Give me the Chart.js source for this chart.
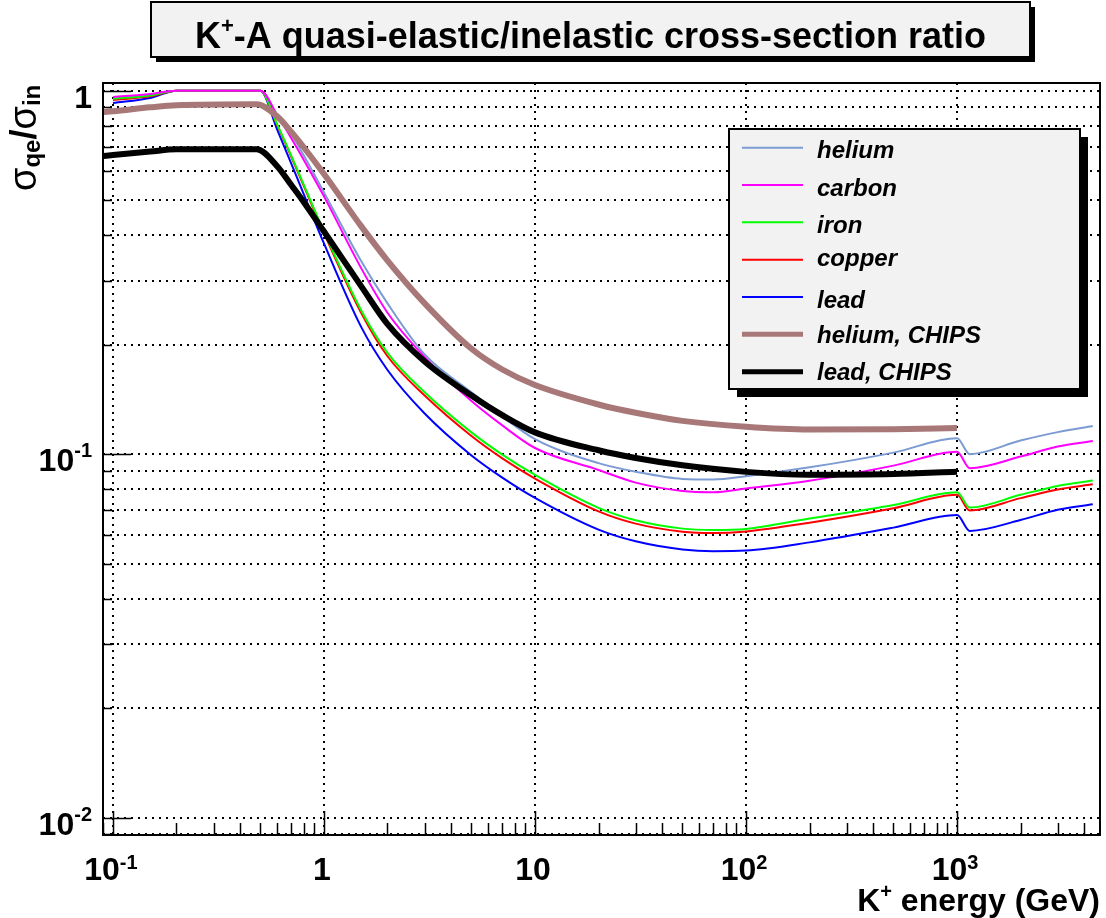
<!DOCTYPE html>
<html>
<head>
<meta charset="utf-8">
<title>K+-A quasi-elastic/inelastic cross-section ratio</title>
<script src="https://cdn.jsdelivr.net/npm/chart.js@4.4.1/dist/chart.umd.min.js"></script>
<style>
  html, body { margin: 0; padding: 0; background: #ffffff; }
  #wrap { width: 1106px; height: 918px; }
</style>
</head>
<body>
<div id="wrap"><canvas id="ratio-chart" width="1106" height="918"></canvas></div>
<script>
// kaon energy grid (GeV) of the parametrised curves
const energyParam = [0.1, 0.15, 0.2, 0.5, 0.6, 0.7, 0.8, 1, 1.5, 2, 3, 5, 7, 10, 20, 30, 50, 70, 100, 200, 500, 1000, 1150, 2000, 3000, 4400];
const heliumRatio = [0.95, 0.975, 1.0, 1.0, 0.86, 0.76, 0.665, 0.525, 0.34, 0.26, 0.188, 0.148, 0.127, 0.11, 0.0945, 0.0895, 0.0855, 0.0852, 0.087, 0.092, 0.101, 0.1106, 0.1, 0.109, 0.115, 0.1196];
const carbonRatio = [0.96, 0.98, 1.0, 1.0, 0.857, 0.74, 0.647, 0.512, 0.325, 0.245, 0.185, 0.14, 0.12, 0.104, 0.0905, 0.0835, 0.0792, 0.0786, 0.0805, 0.0845, 0.093, 0.1016, 0.0915, 0.0985, 0.105, 0.1087];
const ironRatio = [0.95, 0.97, 1.0, 1.0, 0.808, 0.662, 0.553, 0.41, 0.249, 0.19, 0.148, 0.1148, 0.0997, 0.0877, 0.0712, 0.0658, 0.0624, 0.0619, 0.0623, 0.0665, 0.0725, 0.0786, 0.0713, 0.0773, 0.0818, 0.0846];
const copperRatio = [0.943, 0.965, 1.0, 1.0, 0.804, 0.658, 0.549, 0.406, 0.245, 0.186, 0.145, 0.1122, 0.0974, 0.0857, 0.0696, 0.0644, 0.0612, 0.0607, 0.0613, 0.0648, 0.071, 0.0773, 0.070, 0.0757, 0.080, 0.0826];
const leadRatio = [0.925, 0.955, 1.0, 1.0, 0.782, 0.63, 0.521, 0.38, 0.224, 0.1705, 0.1294, 0.0992, 0.0862, 0.0758, 0.062, 0.0576, 0.0547, 0.0541, 0.0543, 0.0572, 0.0628, 0.068, 0.0615, 0.0659, 0.0703, 0.0728];

// CHIPS curves
const energyChips = [0.09, 0.1, 0.15, 0.2, 0.48, 0.6, 0.7, 0.8, 1, 1.5, 2, 3, 5, 7, 10, 20, 30, 50, 100, 200, 500, 1000];
const heliumChipsRatio = [0.874, 0.878, 0.9, 0.912, 0.918, 0.85, 0.77, 0.70, 0.59, 0.424, 0.341, 0.26, 0.195, 0.171, 0.155, 0.137, 0.130, 0.1235, 0.119, 0.117, 0.1172, 0.118];
const leadChipsRatio = [0.661, 0.665, 0.68, 0.69, 0.69, 0.62, 0.55, 0.495, 0.41, 0.29, 0.228, 0.18, 0.145, 0.128, 0.1148, 0.1025, 0.0976, 0.0932, 0.0894, 0.0878, 0.0882, 0.0895];

const seriesNames = ['helium', 'carbon', 'iron', 'copper', 'lead', 'helium, CHIPS', 'lead, CHIPS'];
const seriesColors = ['#7b9bd2', '#ff00ff', '#00ff00', '#ff0000', '#0000ff', '#a87878', '#000000'];
const seriesWidths = [2, 2, 2, 2, 2, 6, 6];

const xTickValues = [0.1, 1, 10, 100, 1000];
const xTickLabels = [['10', '-1'], ['1', ''], ['10', ''], ['10', '2'], ['10', '3']];
const yTickValues = [1, 0.1, 0.01];
const yTickLabels = [['1', ''], ['10', '-1'], ['10', '-2']];

const X_MIN = 0.0897, X_MAX = 4760;
const Y_MIN = 0.00896, Y_MAX = 1.05;
const FONT = '"Liberation Sans", Arial, Helvetica, sans-serif';

// log-axis sub-divisions (1..9 per decade)
function decadeSteps(min, max) {
  const out = [];
  for (let k = Math.floor(Math.log10(min)); k <= Math.ceil(Math.log10(max)); k++) {
    for (let m = 1; m <= 9; m++) {
      const v = m * Math.pow(10, k);
      if (v >= min && v <= max) out.push(+v.toPrecision(3));
    }
  }
  return out;
}

const yGridValues = decadeSteps(Y_MIN, Y_MAX);
const xMinorValues = decadeSteps(X_MIN, X_MAX);

function toPoints(xs, ys) {
  return xs.map((x, i) => ({ x, y: ys[i] }));
}

// write "base^exp" with a raised exponent
function drawPower(ctx, base, exp, x, y, align, baseSize, expSize, raise) {
  ctx.font = `bold ${baseSize}px ${FONT}`;
  const wb = ctx.measureText(base).width;
  ctx.font = `bold ${expSize}px ${FONT}`;
  const we = exp ? ctx.measureText(exp).width : 0;
  const total = wb + we;
  let left = x;
  if (align === 'center') left = x - total / 2;
  if (align === 'right') left = x - total;
  ctx.textAlign = 'left';
  ctx.textBaseline = 'alphabetic';
  ctx.font = `bold ${baseSize}px ${FONT}`;
  ctx.fillText(base, left, y);
  if (exp) {
    ctx.font = `bold ${expSize}px ${FONT}`;
    ctx.fillText(exp, left + wb, y - raise);
  }
}

const rootDecor = {
  id: 'rootDecor',
  afterDraw(chart) {
    const ctx = chart.ctx;
    const area = chart.chartArea;
    const xs = chart.scales.x;
    const ys = chart.scales.y;
    ctx.save();
    ctx.fillStyle = '#000';
    ctx.strokeStyle = '#000';
    ctx.setLineDash([]);

    // frame
    ctx.lineWidth = 2;
    ctx.strokeRect(area.left, area.top, area.right - area.left, area.bottom - area.top);

    // tick marks
    ctx.lineWidth = 1.5;
    ctx.beginPath();
    xMinorValues.forEach(v => {
      const px = Math.round(xs.getPixelForValue(v)) + 0.5;
      const len = xTickValues.includes(v) ? 24 : 12;
      ctx.moveTo(px, area.bottom);
      ctx.lineTo(px, area.bottom - len);
    });
    yGridValues.forEach(v => {
      const py = Math.round(ys.getPixelForValue(v)) + 0.5;
      const len = yTickValues.includes(v) ? 28 : 9;
      ctx.moveTo(area.left, py);
      ctx.lineTo(area.left + len, py);
    });
    ctx.stroke();

    // tick labels
    xTickValues.forEach((v, i) => {
      const px = xs.getPixelForValue(v);
      drawPower(ctx, xTickLabels[i][0], xTickLabels[i][1], px - 2, 880, 'center', 32, 20, 11);
    });
    yTickValues.forEach((v, i) => {
      const py = ys.getPixelForValue(v);
      drawPower(ctx, yTickLabels[i][0], yTickLabels[i][1], 92, py + 17, 'right', 32, 20, 14);
    });

    // x title
    ctx.font = `bold 32px ${FONT}`;
    const restW = ctx.measureText(' energy (GeV)').width;
    ctx.font = `bold 20px ${FONT}`;
    const plusW = ctx.measureText('+').width;
    ctx.font = `bold 32px ${FONT}`;
    const kW = ctx.measureText('K').width;
    let tx = 1100 - restW - plusW - kW;
    ctx.fillText('K', tx, 911);
    ctx.font = `bold 20px ${FONT}`;
    ctx.fillText('+', tx + kW, 898);
    ctx.font = `bold 32px ${FONT}`;
    ctx.fillText(' energy (GeV)', tx + kW + plusW, 911);

    // y title, rotated
    ctx.save();
    ctx.translate(36, 191);
    ctx.rotate(-Math.PI / 2);
    let cx = 0;
    const parts = [['σ', 'normal', 38, 0], ['qe', 'bold', 24, 4], ['/', 'bold', 36, 0], ['σ', 'normal', 38, 0], ['in', 'bold', 24, 4]];
    parts.forEach(([t, weight, size, drop]) => {
      ctx.font = `${weight} ${size}px ${FONT}`;
      ctx.fillText(t, cx, drop);
      cx += ctx.measureText(t).width;
    });
    ctx.restore();

    // legend
    const lg = { x: 729, y: 129, w: 351, h: 260, shadow: 8 };
    ctx.fillStyle = '#000';
    ctx.fillRect(lg.x + lg.shadow, lg.y + lg.shadow, lg.w, lg.h);
    ctx.fillStyle = '#f2f2f2';
    ctx.fillRect(lg.x, lg.y, lg.w, lg.h);
    ctx.lineWidth = 2;
    ctx.strokeStyle = '#000';
    ctx.strokeRect(lg.x, lg.y, lg.w, lg.h);
    ctx.font = `bold italic 24px ${FONT}`;
    seriesNames.forEach((name, i) => {
      const ly = 147.7 + 37.33 * i;
      ctx.strokeStyle = seriesColors[i];
      ctx.lineWidth = seriesWidths[i] > 2 ? 5 : 2;
      ctx.beginPath();
      ctx.moveTo(742, ly);
      ctx.lineTo(803, ly);
      ctx.stroke();
      const m = ctx.measureText(name);
      const base = ly + (m.actualBoundingBoxAscent - m.actualBoundingBoxDescent) / 2 + 1.5;
      ctx.fillStyle = '#000';
      ctx.fillText(name, 817, base);
    });

    // title box
    const tb = { x: 151, y: 2, w: 879, h: 55, shadow: 5 };
    ctx.fillStyle = '#000';
    ctx.fillRect(tb.x + tb.shadow, tb.y + tb.shadow, tb.w, tb.h);
    ctx.fillStyle = '#f2f2f2';
    ctx.fillRect(tb.x, tb.y, tb.w, tb.h);
    ctx.lineWidth = 2;
    ctx.strokeRect(tb.x, tb.y, tb.w, tb.h);
    ctx.fillStyle = '#000';
    ctx.font = `bold 36px ${FONT}`;
    const tailText = '-A quasi-elastic/inelastic cross-section ratio';
    const tailW = ctx.measureText(tailText).width;
    const kW2 = ctx.measureText('K').width;
    ctx.font = `bold 22px ${FONT}`;
    const pW2 = ctx.measureText('+').width;
    const startX = tb.x + tb.w / 2 - (kW2 + pW2 + tailW) / 2;
    ctx.font = `bold 36px ${FONT}`;
    ctx.fillText('K', startX, 48);
    ctx.font = `bold 22px ${FONT}`;
    ctx.fillText('+', startX + kW2, 33);
    ctx.font = `bold 36px ${FONT}`;
    ctx.fillText(tailText, startX + kW2 + pW2, 48);

    ctx.restore();
  }
};

const datasets = [
  { label: seriesNames[0], data: toPoints(energyParam, heliumRatio), order: 7 },
  { label: seriesNames[1], data: toPoints(energyParam, carbonRatio), order: 3 },
  { label: seriesNames[2], data: toPoints(energyParam, ironRatio), order: 4 },
  { label: seriesNames[3], data: toPoints(energyParam, copperRatio), order: 5 },
  { label: seriesNames[4], data: toPoints(energyParam, leadRatio), order: 6 },
  { label: seriesNames[5], data: toPoints(energyChips, heliumChipsRatio), order: 2 },
  { label: seriesNames[6], data: toPoints(energyChips, leadChipsRatio), order: 1 }
].map((ds, i) => ({
  ...ds,
  borderColor: seriesColors[i],
  backgroundColor: seriesColors[i],
  borderWidth: seriesWidths[i],
  pointRadius: 0,
  cubicInterpolationMode: 'monotone',
  fill: false
}));

const dotted = { display: false, dash: [2, 5] };

new Chart(document.getElementById('ratio-chart'), {
  type: 'line',
  data: { datasets },
  options: {
    responsive: false,
    animation: false,
    devicePixelRatio: 1,
    layout: { padding: { left: 103, top: 83, right: 6, bottom: 83 } },
    plugins: {
      legend: { display: false },
      tooltip: { enabled: false }
    },
    scales: {
      x: {
        type: 'logarithmic',
        position: 'bottom',
        min: X_MIN,
        max: X_MAX,
        afterBuildTicks: (scale) => { scale.ticks = xTickValues.map(v => ({ value: v })); },
        ticks: { display: false },
        grid: { color: '#000', lineWidth: 2, drawTicks: false, tickLength: 0 },
        border: dotted
      },
      y: {
        type: 'logarithmic',
        position: 'left',
        min: Y_MIN,
        max: Y_MAX,
        afterBuildTicks: (scale) => { scale.ticks = yGridValues.map(v => ({ value: v })); },
        ticks: { display: false },
        grid: { color: '#000', lineWidth: 2, drawTicks: false, tickLength: 0 },
        border: dotted
      }
    }
  },
  plugins: [rootDecor]
});
</script>
</body>
</html>
